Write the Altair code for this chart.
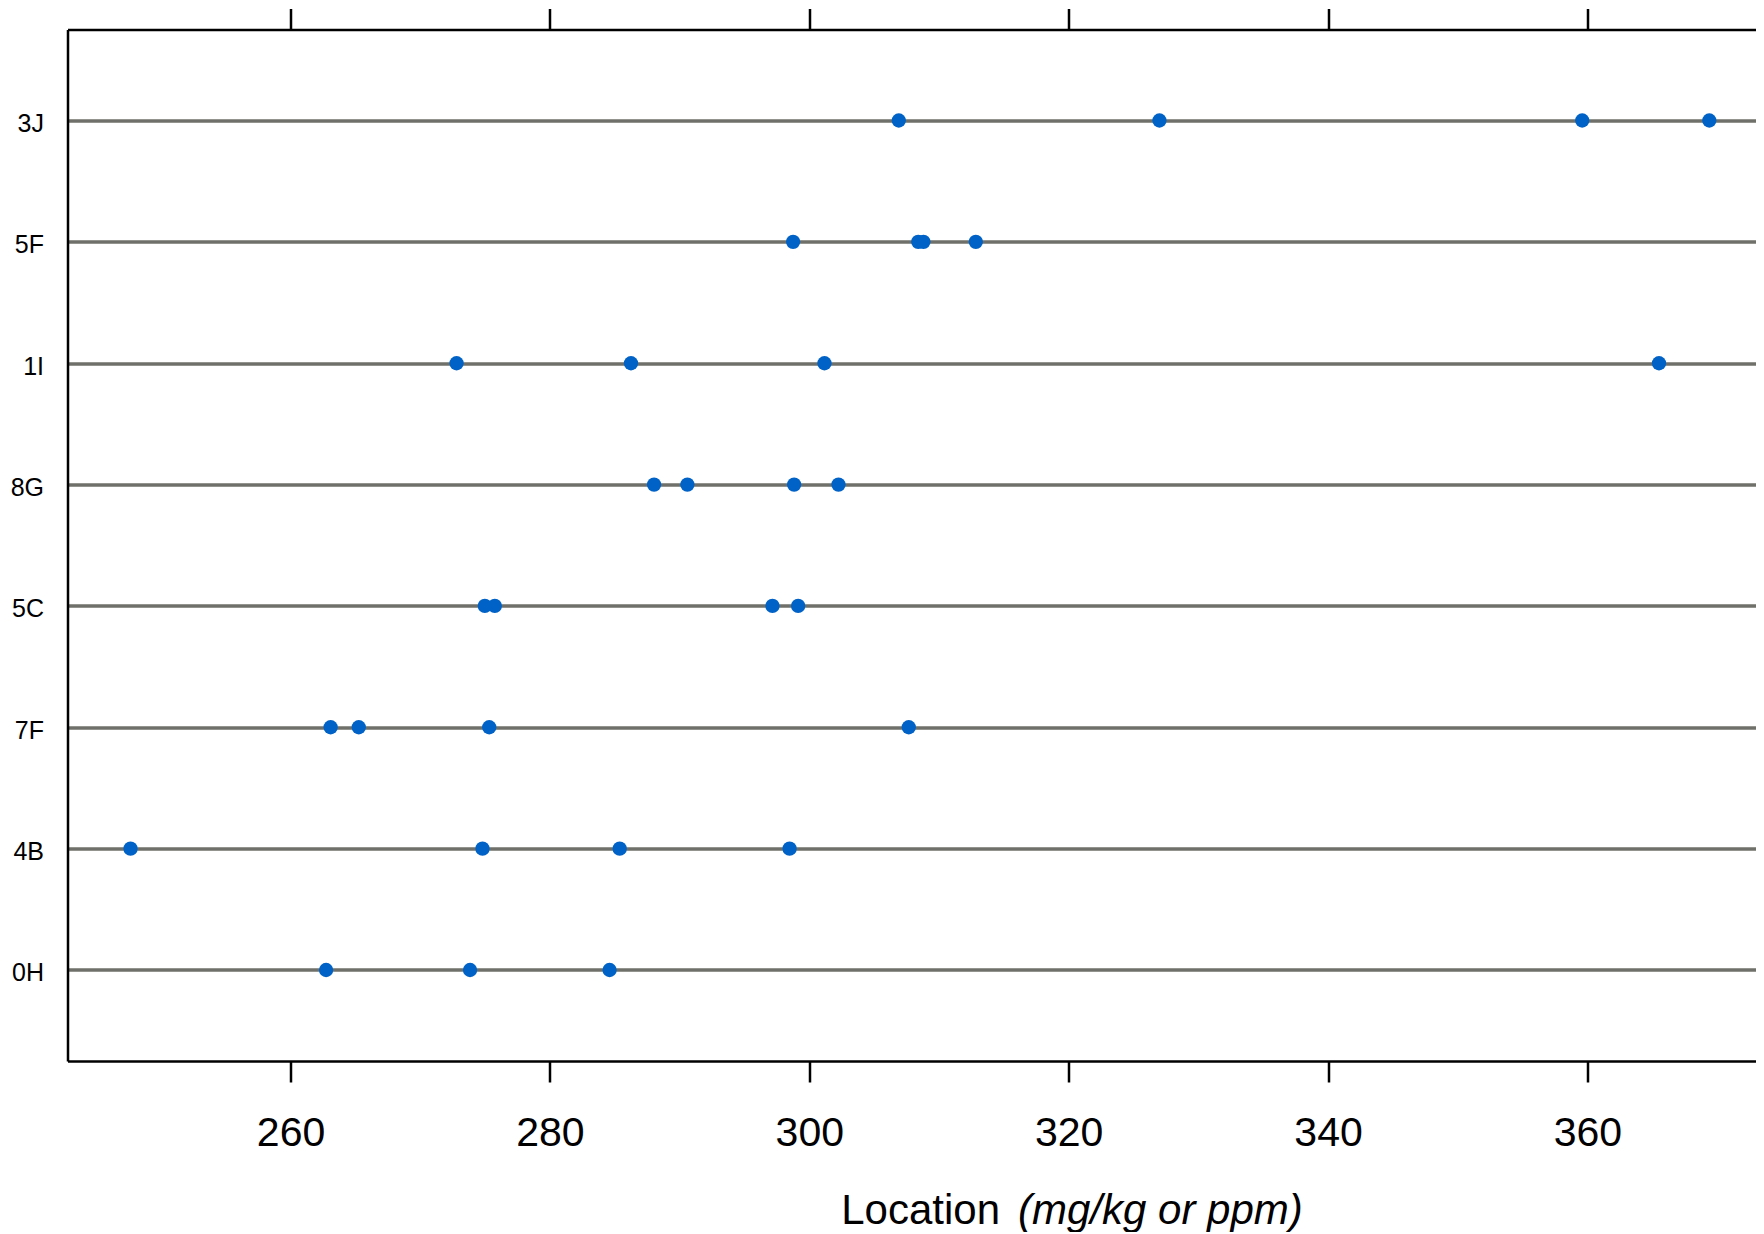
import altair as alt
import pandas as pd

# ---- data ----
categories = ["3J", "5F", "1I", "8G", "5C", "7F", "4B", "0H"]
vals_3J = [306.9, 327.0, 359.6, 369.4]
vals_5F = [298.75, 308.4, 308.8, 312.84]
vals_1I = [272.8, 286.25, 301.17, 365.52]
vals_8G = [288.03, 290.6, 298.83, 302.25]
vals_5C = [274.98, 275.75, 297.16, 299.14]
vals_7F = [263.09, 265.26, 275.32, 307.67]
vals_4B = [247.66, 274.8, 285.38, 298.48]
vals_0H = [262.74, 273.84, 284.6]
x_ticks = [260, 280, 300, 320, 340, 360]
x_domain = [242.8, 373.0]
title_main = "Location"
title_unit = "(mg/kg or ppm)"

series = [vals_3J, vals_5F, vals_1I, vals_8G, vals_5C, vals_7F, vals_4B, vals_0H]
rows = []
for cat, vals in zip(categories, series):
    for v in vals:
        rows.append({"group": cat, "location": v})
df = pd.DataFrame(rows)

FONT = "Liberation Sans"
W, H = 1688.5, 1031.5

xscale = alt.Scale(domain=x_domain, nice=False, zero=False)
yscale = alt.Scale(type="point", domain=categories, padding=0.75)

points = alt.Chart(df).mark_circle(size=205, color="#0062C6", opacity=1).encode(
    x=alt.X("location:Q", scale=xscale,
            axis=alt.Axis(orient="bottom", values=x_ticks, title=None, grid=False,
                          tickSize=21, tickWidth=2.5, tickColor="black",
                          domainColor="black", domainWidth=2.5,
                          labelFont=FONT, labelFontSize=41, labelColor="black",
                          labelPadding=31, labelFlush=False, labelOverlap=False)),
    y=alt.Y("group:N", scale=yscale, sort=categories,
            axis=alt.Axis(orient="left", title=None, ticks=False,
                          domainColor="black", domainWidth=2.5,
                          grid=True, gridColor="#70706A", gridWidth=3.3,
                          labelFont=FONT, labelFontSize=25, labelColor="black",
                          labelPadding=24, labelOffset=3)),
)

top_axis = alt.Chart(df).mark_circle(opacity=0).encode(
    x=alt.X("location:Q", scale=xscale,
            axis=alt.Axis(orient="top", values=x_ticks, title=None, grid=False,
                          labels=False, tickSize=21, tickWidth=2.5, tickColor="black",
                          domainColor="black", domainWidth=2.5)),
)

t1 = alt.Chart(pd.DataFrame({"t": [title_main]})).mark_text(
    font=FONT, fontSize=42, color="black", align="right", baseline="alphabetic"
).encode(text="t:N", x=alt.value(932.5), y=alt.value(1194))

t2 = alt.Chart(pd.DataFrame({"t": [title_unit]})).mark_text(
    font=FONT, fontSize=42, fontStyle="italic", color="black", align="left",
    baseline="alphabetic"
).encode(text="t:N", x=alt.value(950.5), y=alt.value(1194))

chart = alt.layer(points, top_axis, t1, t2).resolve_axis(x="independent").properties(
    width=W, height=H,
    autosize=alt.AutoSizeParams(type="none"),
    padding={"left": 59.5, "top": 21.5, "right": 0, "bottom": 171},
    background="white",
).configure_view(stroke=None)

chart.save("out.html", embed_options={"renderer": "svg", "actions": False})
